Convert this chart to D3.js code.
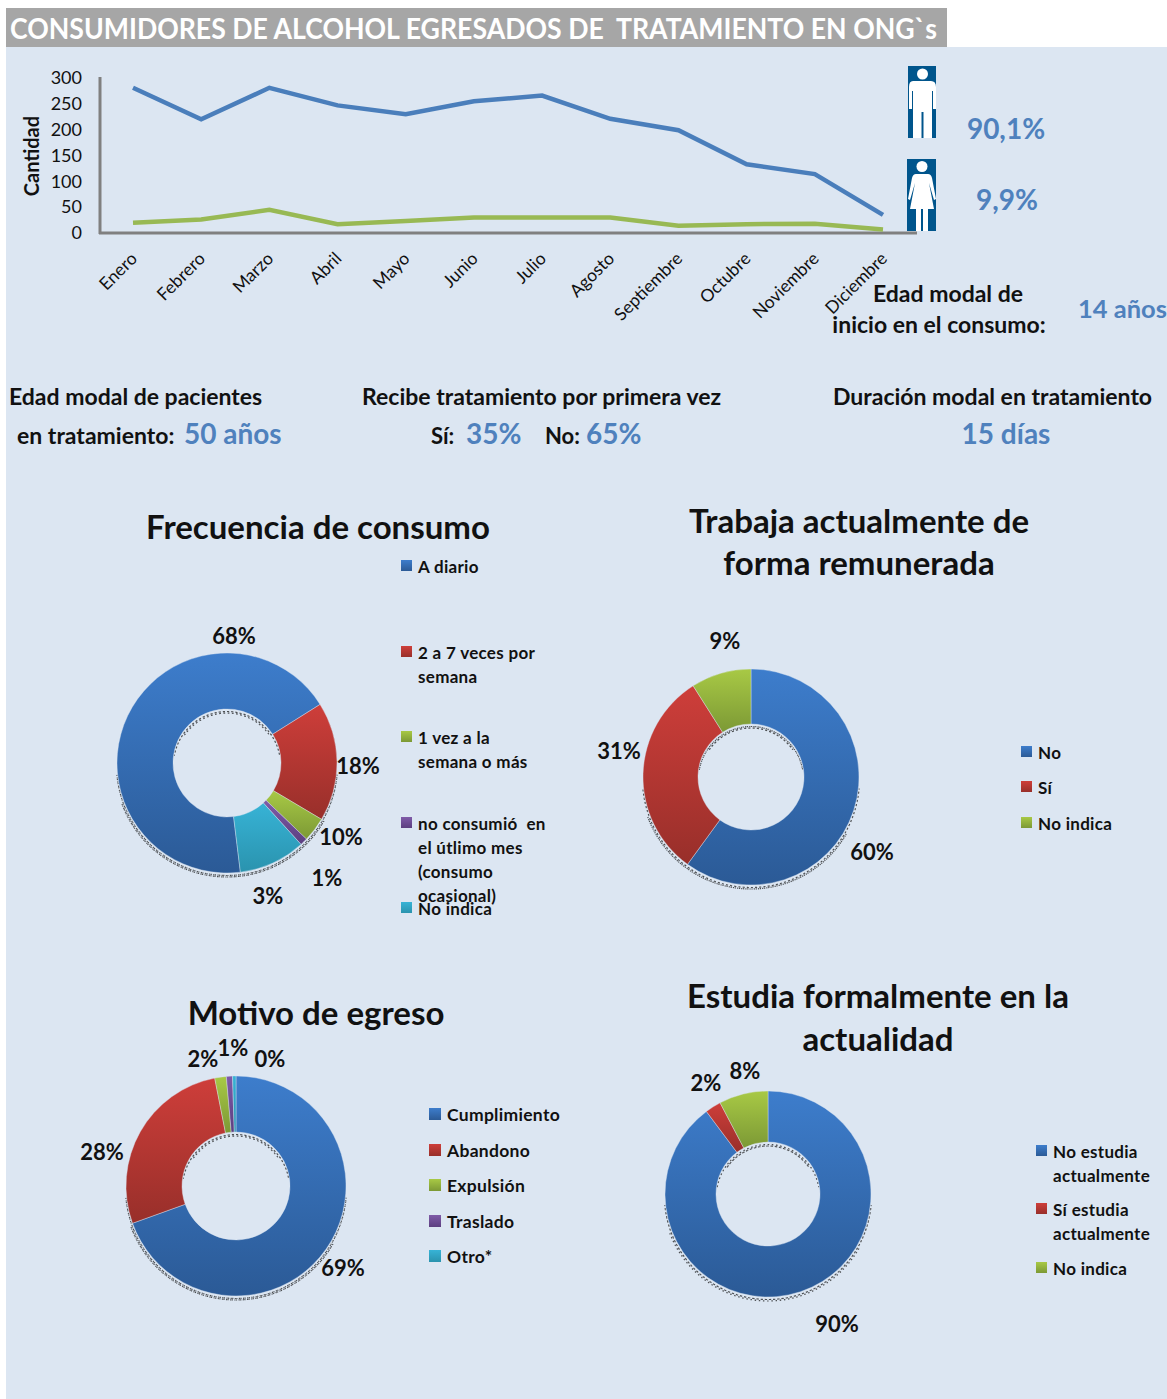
<!DOCTYPE html>
<html>
<head>
<meta charset="utf-8">
<script src="https://cdn.jsdelivr.net/npm/d3@7"></script>
<style>
  html, body { margin: 0; padding: 0; background: #fff; }
  svg { display: block; }
  text { font-family: Lato, "Open Sans", sans-serif; fill: #111; white-space: pre; }
</style>
</head>
<body>
<div id="chart"></div>
<script>
const meses = ["Enero", "Febrero", "Marzo", "Abril", "Mayo", "Junio", "Julio", "Agosto", "Septiembre", "Octubre", "Noviembre", "Diciembre"];
const hombres = [281, 220, 281, 247, 230, 255, 266, 221, 199, 133, 114, 35];
const mujeres = [20, 26, 45, 17, 23, 30, 30, 30, 14, 17, 18, 7];
const yTicks = [0, 50, 100, 150, 200, 250, 300];

const frecuenciaCats = ["A diario", "2 a 7 veces por|semana", "1 vez a la|semana o más", "no consumió  en|el útlimo mes|(consumo|ocasional)", "No indica"];
const frecuenciaVals = [68, 17.5, 3.6, 1.1, 9.8];
const frecuenciaLabels = ["68%", "18%", "10%", "1%", "3%"];

const trabajaCats = ["No", "Sí", "No indica"];
const trabajaVals = [60, 31, 9];
const trabajaLabels = ["60%", "31%", "9%"];

const motivoCats = ["Cumplimiento", "Abandono", "Expulsión", "Traslado", "Otro*"];
const motivoVals = [69.5, 27.4, 1.7, 0.9, 0.5];
const motivoLabels = ["69%", "28%", "2%", "1%", "0%"];

const estudiaCats = ["No estudia|actualmente", "Sí estudia|actualmente", "No indica"];
const estudiaVals = [89.8, 2.5, 7.7];
const estudiaLabels = ["90%", "2%", "8%"];

const colores = [
  ["#3d7dcc", "#2b5a96"],
  ["#ce3e3a", "#982f2a"],
  ["#a8c945", "#7c9935"],
  ["#7f5ba8", "#5c3f80"],
  ["#37b3d6", "#2a93ae"]
];

const width = 1167, height = 1399;
const azul = "#4f81bd";
const fondo = "#dce6f2";

const svg = d3.select("#chart").append("svg")
  .attr("width", width)
  .attr("height", height);
const defs = svg.append("defs");

// one top-to-bottom gradient per colour, used by slices and legend squares
colores.forEach((c, i) => {
  const lg = defs.append("linearGradient").attr("id", "grad" + i)
    .attr("x1", 0).attr("x2", 0).attr("y1", 0).attr("y2", 1);
  lg.append("stop").attr("offset", 0).attr("stop-color", c[0]);
  lg.append("stop").attr("offset", 1).attr("stop-color", c[1]);
});

svg.append("rect").attr("x", 6).attr("y", 47).attr("width", 1161).attr("height", 1352).attr("fill", fondo);
svg.append("rect").attr("x", 6).attr("y", 8).attr("width", 941).attr("height", 39).attr("fill", "#a6a6a6");
svg.append("text").attr("x", 10).attr("y", 39)
  .attr("textLength", 927).attr("lengthAdjust", "spacingAndGlyphs")
  .style("fill", "#fff").style("font-size", "28.5px").style("font-weight", 700)
  .text("CONSUMIDORES DE ALCOHOL EGRESADOS DE  TRATAMIENTO EN ONG`s");

// line chart
const x = d3.scalePoint().domain(meses).range([133, 883]);
const y = d3.scaleLinear().domain([0, 300]).range([233, 78]);

const yAxis = svg.append("g")
  .attr("transform", "translate(100,0)")
  .call(d3.axisLeft(y).tickValues(yTicks).tickSize(0).tickPadding(18));
yAxis.select(".domain").remove();
yAxis.selectAll("text").style("font-size", "18px").style("font-family", "Lato");

const xAxis = svg.append("g")
  .attr("transform", "translate(0,233)")
  .call(d3.axisBottom(x).tickSize(0).tickFormat(""));
xAxis.select(".domain").remove();

xAxis.selectAll(".tick").append("text")
  .attr("text-anchor", "end")
  .attr("transform", "translate(-4,18) rotate(-45)")
  .attr("dy", "0.7em")
  .style("font-size", "17.5px")
  .text(d => d);

svg.append("line").attr("x1", 100).attr("x2", 100).attr("y1", 77).attr("y2", 234)
  .attr("stroke", "#808080").attr("stroke-width", 3);
svg.append("line").attr("x1", 99).attr("x2", 917).attr("y1", 233).attr("y2", 233)
  .attr("stroke", "#808080").attr("stroke-width", 3);

svg.append("text")
  .attr("transform", "translate(39,156) rotate(-90)")
  .attr("text-anchor", "middle")
  .style("font-size", "20px").style("font-weight", 700)
  .text("Cantidad");

const linea = d3.line().x((d, i) => x(meses[i])).y(d => y(d));
svg.append("path").datum(hombres).attr("d", linea)
  .attr("fill", "none").attr("stroke", "#4a7ebb").attr("stroke-width", 4.5);
svg.append("path").datum(mujeres).attr("d", linea)
  .attr("fill", "none").attr("stroke", "#98b954").attr("stroke-width", 4.5);

// icons
const iconoAzul = "#00558c";
const hombre = svg.append("g").attr("transform", "translate(908,66)");
hombre.append("rect").attr("width", 28).attr("height", 72).attr("fill", iconoAzul);
hombre.append("circle").attr("cx", 14.5).attr("cy", 8).attr("r", 5.5).attr("fill", "#fff");
hombre.append("path").attr("fill", "#fff")
  .attr("d", "M5 15 H23 Q28 15 28 21 V43 H25 V25 H24 V72 H15.5 V46 H13.5 V72 H5 V25 H4 V43 H1 V21 Q1 15 5 15 Z");

const mujer = svg.append("g").attr("transform", "translate(907,159)");
mujer.append("rect").attr("width", 29).attr("height", 72).attr("fill", iconoAzul);
mujer.append("circle").attr("cx", 15).attr("cy", 7.5).attr("r", 5.5).attr("fill", "#fff");
mujer.append("path").attr("fill", "#fff")
  .attr("d", "M9 15 H21 Q24 15 25 19 L29 40 L27 41 L22 24 L27 50 H21 V72 H16 V50 H14 V72 H9 V50 H3 L8 24 L3 41 L1 40 L5 19 Q6 15 9 15 Z");

function texto(px, py, str, size, opts) {
  opts = opts || {};
  return svg.append("text").attr("x", px).attr("y", py)
    .attr("text-anchor", opts.anchor || "start")
    .style("font-size", size + "px")
    .style("font-weight", opts.weight || 700)
    .style("letter-spacing", opts.spacing || "normal")
    .style("fill", opts.fill || "#111")
    .text(str);
}

texto(1006, 139, "90,1%", 28, { anchor: "middle", fill: azul });
texto(1007, 210, "9,9%", 28, { anchor: "middle", fill: azul });
texto(948, 302, "Edad modal de", 23, { anchor: "middle" });
texto(939, 333, "inicio en el consumo:", 23, { anchor: "middle" });
texto(1078, 318, "14 años", 25.5, { fill: azul });

texto(9, 405, "Edad modal de pacientes", 23);
texto(17, 444, "en tratamiento:", 23);
texto(184, 444, "50 años", 28, { fill: azul });
texto(362, 405, "Recibe tratamiento por primera vez", 23);
texto(431, 444, "Sí:", 22);
texto(466, 444, "35%", 28, { fill: azul });
texto(545, 444, "No:", 22);
texto(586, 444, "65%", 28, { fill: azul });
texto(833, 405, "Duración modal en tratamiento", 23);
texto(1006, 444, "15 días", 28, { anchor: "middle", fill: azul });

// donuts
function dona(cfg) {
  const g = svg.append("g").attr("transform", `translate(${cfg.cx},${cfg.cy})`);
  const pie = d3.pie().sort(null).startAngle(cfg.start).endAngle(cfg.start + 2 * Math.PI);
  const arc = d3.arc().innerRadius(cfg.ri).outerRadius(cfg.re);

  // rough dotted shadow of the original picture, sits under the ring
  const sombra = g.append("g").attr("transform", "translate(0,2)");
  [[cfg.re + 0.5, 95, 265], [cfg.re + 2, 120, 250], [cfg.ri - 0.5, -80, 80], [cfg.ri - 2, -55, 55]].forEach(r => {
    sombra.append("path")
      .attr("d", d3.arc().innerRadius(r[0]).outerRadius(r[0])({
        startAngle: r[1] * Math.PI / 180, endAngle: r[2] * Math.PI / 180 }))
      .attr("fill", "none").attr("stroke", "#111").attr("stroke-width", 1.2)
      .attr("stroke-dasharray", "1.2 3").attr("opacity", 0.7);
  });

  g.selectAll("path.slice").data(pie(cfg.vals)).join("path")
    .attr("class", "slice")
    .attr("d", arc)
    .attr("stroke", fondo).attr("stroke-width", 0.4)
    .attr("fill", (d, i) => `url(#grad${i})`);

  cfg.labels.forEach((t, i) => {
    texto(cfg.labelPos[i][0], cfg.labelPos[i][1], t, 22, { anchor: "middle" });
  });

  cfg.cats.forEach((c, i) => {
    const ly = cfg.legendY[i];
    svg.append("rect").attr("x", cfg.legendX).attr("y", ly - 6)
      .attr("width", cfg.sw).attr("height", cfg.sw)
      .attr("fill", `url(#grad${i})`);
    c.split("|").forEach((linea, k) => {
      texto(cfg.legendX + cfg.textDx, ly + 6.5 + k * cfg.lineH, linea, cfg.legendSize, { spacing: "0.3px" });
    });
  });

  cfg.title.forEach((t, i) => {
    texto(cfg.titleX, cfg.titleY[i], t, 33, { anchor: "middle" });
  });
}

const rad = Math.PI / 180;

dona({
  id: "frec", cx: 227, cy: 763, re: 110, ri: 54, start: 173 * rad,
  vals: frecuenciaVals, labels: frecuenciaLabels, cats: frecuenciaCats,
  labelPos: [[234, 644], [358, 774], [341, 845], [327, 886], [268, 904]],
  legendX: 401, legendY: [566, 652, 737, 823, 908], sw: 11, textDx: 17, lineH: 24, legendSize: 17,
  title: ["Frecuencia de consumo"], titleX: 318, titleY: [539]
});

dona({
  id: "trab", cx: 751, cy: 777, re: 108, ri: 53, start: 0,
  vals: trabajaVals, labels: trabajaLabels, cats: trabajaCats,
  labelPos: [[872, 860], [619, 759], [725, 649]],
  legendX: 1021, legendY: [752, 787, 823], sw: 11, textDx: 17, lineH: 24, legendSize: 17,
  title: ["Trabaja actualmente de", "forma remunerada"], titleX: 859, titleY: [533, 575]
});

dona({
  id: "moti", cx: 236, cy: 1186, re: 110, ri: 54, start: 0,
  vals: motivoVals, labels: motivoLabels, cats: motivoCats,
  labelPos: [[343, 1276], [102, 1160], [203, 1067], [233, 1056], [270, 1067]],
  legendX: 429, legendY: [1114, 1150, 1185, 1221, 1256], sw: 12, textDx: 18, lineH: 24, legendSize: 17.5,
  title: ["Motivo de egreso"], titleX: 316, titleY: [1025]
});

dona({
  id: "estu", cx: 768, cy: 1194, re: 103, ri: 52, start: 0,
  vals: estudiaVals, labels: estudiaLabels, cats: estudiaCats,
  labelPos: [[837, 1332], [706, 1091], [745, 1079]],
  legendX: 1036, legendY: [1151, 1209, 1268], sw: 11, textDx: 17, lineH: 24, legendSize: 17,
  title: ["Estudia formalmente en la", "actualidad"], titleX: 878, titleY: [1008, 1051]
});
</script>
</body>
</html>
